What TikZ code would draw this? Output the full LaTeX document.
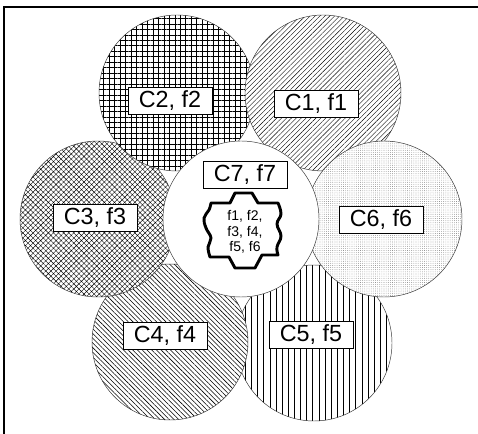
\documentclass[tikz,border=0pt]{standalone}
\usepackage{fontspec}
\setmainfont{Liberation Sans}
\usetikzlibrary{patterns.meta}
\tikzset{
  circ/.style={circle, draw=black!80, line width=0.35pt, minimum size=117pt, inner sep=0pt, preaction={fill=white}},
  lab/.style={draw=black, fill=white, line width=0.4pt, font=\fontsize{17.5}{20}\selectfont, inner xsep=8pt, inner ysep=2.6pt},
  small/.style={align=center, font=\fontsize{10.5}{11.7}\selectfont, inner sep=0pt},
  frameline/.style={line width=1.5pt, line cap=rect},
  gearline/.style={line width=2.2pt, line join=round}
}
\begin{document}
\begin{tikzpicture}[x=0.75pt, y=-0.75pt]
\useasboundingbox (0,0) rectangle (478,434);
% circles, back to front
\node[circ, pattern={Lines[angle=90, distance=4.6pt, line width=0.5pt]}] (c5) at (314,343) {};
\node[circ, pattern={Lines[angle=-45, distance=2.5pt, line width=0.42pt]}] (c4) at (170,342) {};
\node[circ, pattern={Hatch[angle=45, distance=2.7pt, line width=0.3pt]}] (c3) at (98,219) {};
\node[circ, pattern={Hatch[angle=0, distance=4.1pt, line width=0.6pt]}] (c2) at (177,93) {};
\node[circ, pattern={Lines[angle=45, distance=2.6pt, line width=0.3pt]}] (c1) at (323,93) {};
\node[circ, pattern={Dots[distance=1.6pt, radius=0.26pt]}, pattern color=black!65] (c6) at (384,219) {};
\node[circ, fill=white] (c7) at (241,219) {};
% labels
\node[lab] (l1) at (316,104) {C1, f1};
\node[lab] (l2) at (170,101) {C2, f2};
\node[lab] (l3) at (95,218) {C3, f3};
\node[lab] (l4) at (165,336) {C4, f4};
\node[lab] (l5) at (311,335) {C5, f5};
\node[lab] (l6) at (381,220) {C6, f6};
\node[lab] (l7) at (245,175) {C7, f7};
% inner jigsaw shape
\draw[gearline]
  (230,203) -- (235,193) -- (252,193) -- (258,203) -- (278,203)
  -- plot[smooth, tension=0.7] coordinates {(278,203) (281,214) (277,224) (281,236) (277,247) (278,255)}
  -- (262,255) -- (255,268) -- (235,268) -- (229,257) -- (210,257)
  -- plot[smooth, tension=0.7] coordinates {(210,257) (208,247) (211,238) (206,228) (204,218) (209,210) (211,203)}
  -- cycle;
\node[small] (inner) at (245,232) {f1, f2,\\ f3, f4,\\ f5, f6};
% frame
\coordinate (fbl) at (4,434);
\coordinate (ftl) at (4,7);
\coordinate (ftr) at (478,7);
\draw[frameline] (fbl) -- (ftl) -- (ftr);
\end{tikzpicture}
\end{document}
